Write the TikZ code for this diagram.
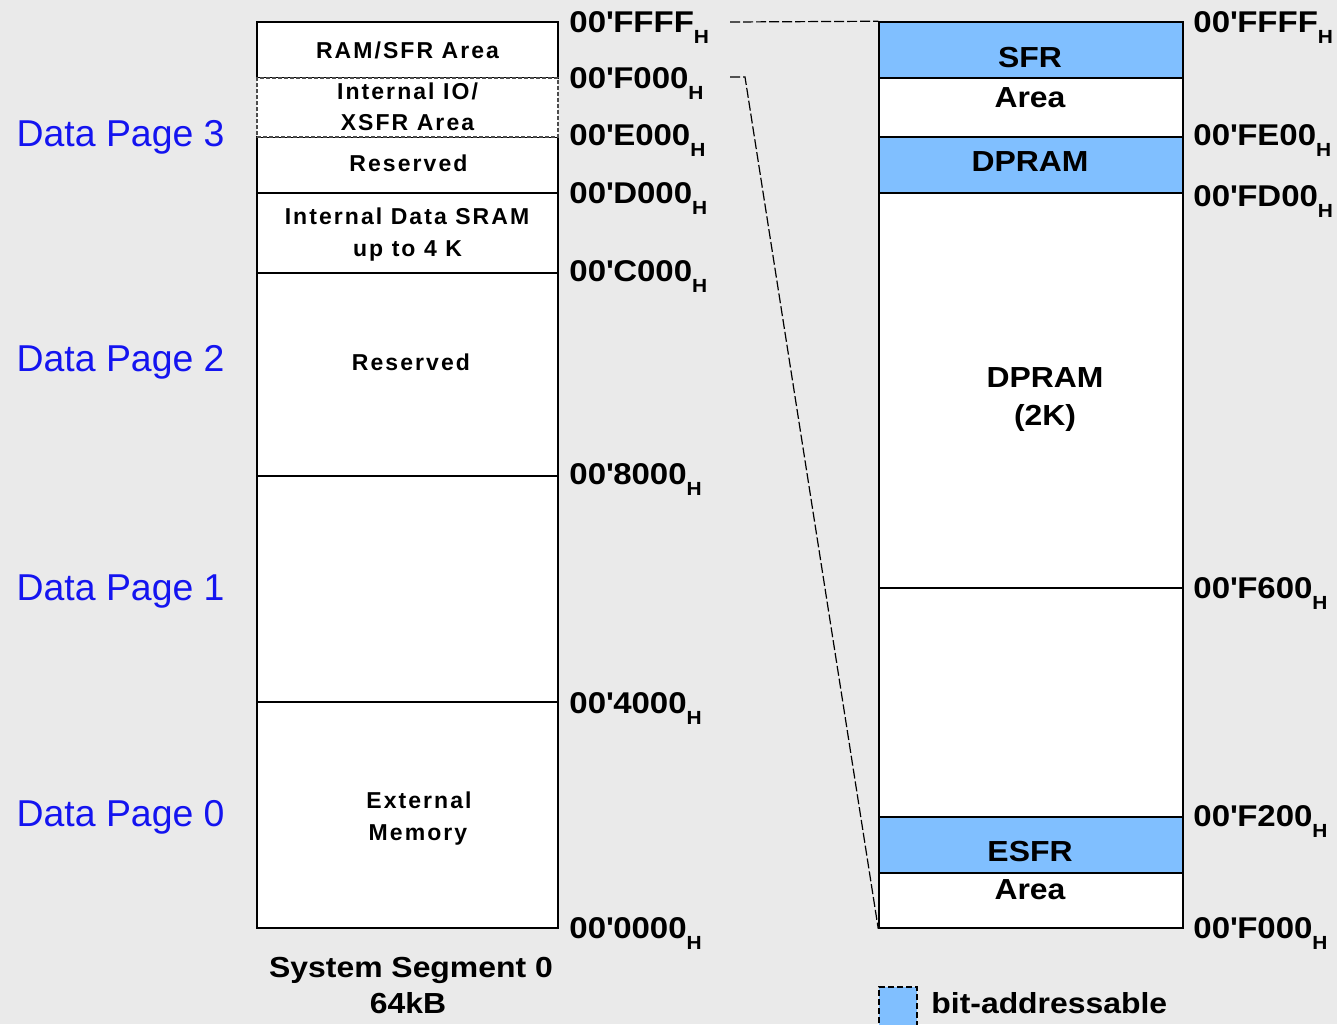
\documentclass[tikz,border=0pt]{standalone}
\usepackage{fontspec}
\usepackage{xcolor}
\usepackage{tikz}
\usetikzlibrary{fit}
\setmainfont{Liberation Sans}
\newfontfamily\addrfont[FakeStretch=1.1]{Liberation Sans Bold}
\newfontfamily\cellfont[FakeStretch=1.1]{Liberation Sans Bold}
\newfontfamily\spacedfont[LetterSpace=9]{Liberation Sans Bold}
\definecolor{bggray}{HTML}{EAEAEA}
\definecolor{bitblue}{HTML}{80BFFF}
\definecolor{pageblue}{RGB}{20,20,240}
\newcommand{\hsub}{\raisebox{-5.5pt}{\fontsize{9.5}{9.5}\selectfont H}}
\newcommand{\addr}[1]{00\textquotesingle #1\hsub}

\tikzset{
	cell/.style={draw, line width=0.75pt, fill=white, inner sep=0pt},
	bitcell/.style={cell, fill=bitblue},
	iocell/.style={draw=black!70, line width=0.6pt, fill=white, inner sep=0pt, dash pattern=on 2pt off 1pt, preaction={draw=white, line width=1.2pt}},
	addr/.style={anchor=base west, inner sep=0pt, font=\addrfont\fontsize{15}{15}\selectfont},
	leftlbl/.style={anchor=base, inner sep=0pt, font=\spacedfont\fontsize{11.5}{11.5}\selectfont},
	rightlbl/.style={anchor=base, inner sep=0pt, font=\cellfont\fontsize{14.5}{14.5}\selectfont},
	pagelbl/.style={anchor=base east, inner sep=0pt, text=pageblue, font=\fontsize{18.7}{18.7}\selectfont},
	link/.style={line width=0.6pt, dash pattern=on 5pt off 1.5pt}
}

\begin{document}
\begin{tikzpicture}[x=0.5pt, y=-0.5pt]
	\fill[bggray] (0,0) rectangle (1337,1024);
	\useasboundingbox (0,0) rectangle (1337,1024);

	% system segment 0
	\node[cell, fit={(257,22) (558,78)}] (ramsfr) {};
	\node[cell, fit={(257,137) (558,193)}] (resvtop) {};
	\node[cell, fit={(257,193) (558,273)}] (sram) {};
	\node[cell, fit={(257,273) (558,476)}] (resvpage) {};
	\node[cell, fit={(257,476) (558,702)}] (pageone) {};
	\node[cell, fit={(257,702) (558,928)}] (extmem) {};
	\node[iocell, fit={(257,78) (558,137)}] (xsfr) {};

	\node[leftlbl] (ramsfrtxt) at (407.5,58) {RAM/SFR Area};
	\node[leftlbl] (xsfrtxta) at (407.5,99) {Internal IO/};
	\node[leftlbl] (xsfrtxtb) at (407.5,130) {XSFR Area};
	\node[leftlbl] (resvtoptxt) at (408.5,171) {Reserved};
	\node[leftlbl] (sramtxta) at (407,224) {Internal Data SRAM};
	\node[leftlbl] (sramtxtb) at (407.5,256) {up to 4 K};
	\node[leftlbl] (resvpagetxt) at (411,370) {Reserved};
	\node[leftlbl] (extmemtxta) at (419,808) {External};
	\node[leftlbl] (extmemtxtb) at (418,840) {Memory};

	\node[rightlbl] (segname) at (411,977) {System Segment 0};
	\node[rightlbl] (segsize) at (408,1013) {64kB};

	% data pages
	\node[pagelbl] (dp3) at (225,146) {Data Page 3};
	\node[pagelbl] (dp2) at (225,371) {Data Page 2};
	\node[pagelbl] (dp1) at (225,600) {Data Page 1};
	\node[pagelbl] (dp0) at (225,826) {Data Page 0};

	% left addresses
	\node[addr] (lffff) at (569,32) {\addr{FFFF}};
	\node[addr] (lf000) at (569,88) {\addr{F000}};
	\node[addr] (le000) at (569,145) {\addr{E000}};
	\node[addr] (ld000) at (569,203) {\addr{D000}};
	\node[addr] (lc000) at (569,281) {\addr{C000}};
	\node[addr] (l8000) at (569,484) {\addr{8000}};
	\node[addr] (l4000) at (569,713) {\addr{4000}};
	\node[addr] (l0000) at (569,938) {\addr{0000}};

	% io area detail
	\node[bitcell, fit={(879,22) (1183,78)}] (sfr) {};
	\node[cell, fit={(879,78) (1183,137)}] (sfrarea) {};
	\node[bitcell, fit={(879,137) (1183,193)}] (dpbit) {};
	\node[cell, fit={(879,193) (1183,588)}] (dpram) {};
	\node[cell, fit={(879,588) (1183,817)}] (gap) {};
	\node[bitcell, fit={(879,817) (1183,873)}] (esfr) {};
	\node[cell, fit={(879,873) (1183,928)}] (esfrarea) {};

	\node[rightlbl] (sfrtxt) at (1030,67) {SFR};
	\node[rightlbl] (sfrareatxt) at (1030,107) {Area};
	\node[rightlbl] (dpbittxt) at (1030,171) {DPRAM};
	\node[rightlbl] (dpramtxta) at (1045,387) {DPRAM};
	\node[rightlbl] (dpramtxtb) at (1045,425) {(2K)};
	\node[rightlbl] (esfrtxt) at (1030,861) {ESFR};
	\node[rightlbl] (esfrareatxt) at (1030,899) {Area};

	% right addresses
	\node[addr] (rffff) at (1193,32) {\addr{FFFF}};
	\node[addr] (rfe00) at (1193,145) {\addr{FE00}};
	\node[addr] (rfd00) at (1193,206) {\addr{FD00}};
	\node[addr] (rf600) at (1193,598) {\addr{F600}};
	\node[addr] (rf200) at (1193,826) {\addr{F200}};
	\node[addr] (rf000) at (1193,938) {\addr{F000}};

	% zoom lines
	\coordinate (topend) at (730,22);
	\coordinate (lowend) at (730,77);
	\coordinate (lowbend) at (745,77);
	\draw[link] (topend) -- (sfr.north west);
	\draw[link] (lowend) -- (lowbend) -- (esfrarea.south west);

	% legend
	\node[fill=bitblue, draw, line width=0.6pt, dash pattern=on 3pt off 1.5pt, inner sep=0pt, fit={(879,987) (917,1034)}] (legbox) {};
	\node[anchor=base west, inner sep=0pt, font=\cellfont\fontsize{14.5}{14.5}\selectfont] (legtxt) at (931,1013) {bit-addressable};
\end{tikzpicture}
\end{document}
